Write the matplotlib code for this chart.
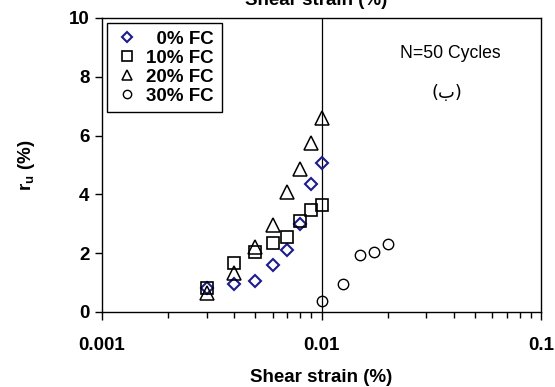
import matplotlib
matplotlib.use("Agg")
import matplotlib.pyplot as plt
from matplotlib.ticker import LogLocator, NullFormatter, FixedLocator

plt.rcParams['font.family'] = ['Liberation Sans', 'DejaVu Sans']
plt.rcParams['mathtext.fontset'] = 'custom'
plt.rcParams['mathtext.rm'] = 'Liberation Sans'
plt.rcParams['mathtext.bf'] = 'Liberation Sans:bold'
plt.rcParams['mathtext.it'] = 'Liberation Sans:italic'

# data
strain_0 = [0.003, 0.004, 0.005, 0.006, 0.007, 0.008, 0.009, 0.010]
ru_0 = [0.81, 0.95, 1.05, 1.59, 2.11, 3.0, 4.35, 5.06]
strain_10 = [0.003, 0.004, 0.005, 0.006, 0.007, 0.008, 0.009, 0.010]
ru_10 = [0.81, 1.66, 2.05, 2.34, 2.56, 3.1, 3.46, 3.63]
strain_20 = [0.003, 0.004, 0.005, 0.006, 0.007, 0.008, 0.009, 0.010]
ru_20 = [0.66, 1.34, 2.22, 2.96, 4.09, 4.86, 5.76, 6.59]
strain_30 = [0.010, 0.0125, 0.0149, 0.0173, 0.020]
ru_30 = [0.36, 0.95, 1.95, 2.04, 2.31]
labels = ['  0% FC', '10% FC', '20% FC', '30% FC']
x_ticks = [0.001, 0.01, 0.1]
x_tick_labels = ['0.001', '0.01', '0.1']
y_ticks = [0, 2, 4, 6, 8, 10]

FS = 13.5

fig = plt.figure(figsize=(5.55, 3.87), dpi=100)
ax = fig.add_axes([102/555, 1 - 312/387, 439/555, 294/387])

ax.plot(strain_0, ru_0, linestyle='none', marker='D', markersize=6.5,
        markerfacecolor='none', markeredgecolor='#1c1c8c', markeredgewidth=1.5, label=labels[0])
ax.plot(strain_10, ru_10, linestyle='none', marker='s', markersize=8.5,
        markerfacecolor='none', markeredgecolor='black', markeredgewidth=1.2, label=labels[1])
ax.plot(strain_20, ru_20, linestyle='none', marker='^', markersize=9.5,
        markerfacecolor='none', markeredgecolor='black', markeredgewidth=1.1, label=labels[2])
ax.plot(strain_30, ru_30, linestyle='none', marker='o', markersize=7.5,
        markerfacecolor='none', markeredgecolor='black', markeredgewidth=1.0, label=labels[3])

ax.axvline(0.01, color='black', linewidth=0.9, zorder=0)

ax.set_xscale('log')
ax.set_xlim(0.001, 0.1)
ax.set_ylim(0, 10)
ax.xaxis.set_major_locator(FixedLocator(x_ticks))
ax.set_xticklabels(x_tick_labels, fontsize=FS, fontweight='bold')
ax.xaxis.set_minor_locator(LogLocator(base=10, subs=range(2, 10)))
ax.xaxis.set_minor_formatter(NullFormatter())
ax.set_yticks(y_ticks)
ax.set_yticklabels([str(v) for v in y_ticks], fontsize=FS, fontweight='bold')

ax.tick_params(axis='x', which='major', direction='out', length=6, width=1, pad=12)
ax.tick_params(axis='x', which='minor', direction='out', length=4, width=1)
ax.tick_params(axis='y', which='major', direction='out', length=5, width=1, pad=4)
for s in ax.spines.values():
    s.set_linewidth(1.0)

ax.set_xlabel('Shear strain (%)', fontsize=FS, fontweight='bold', labelpad=11)
ax.set_ylabel(r'r$_\mathbf{u}$ (%)', fontsize=FS, fontweight='bold', labelpad=23)

# cut-off top title
fig.text(316/555, 1 - 5/387, 'Shear strain (%)', fontsize=FS, fontweight='bold',
         ha='center', va='baseline')

fig.text(450/555, 1 - 53/387, 'N=50 Cycles', fontsize=12.7, ha='center', va='center')
fig.text(447/555, 1 - 93/387, '(ب)', fontsize=13, ha='center', va='center',
         family=['DejaVu Sans'])

leg = ax.legend(loc='upper left', bbox_to_anchor=(5/439, 1 - 5/294), borderaxespad=0,
                frameon=True, fancybox=False, edgecolor='black', framealpha=1,
                prop={'weight': 'bold', 'size': FS}, handletextpad=0.4,
                labelspacing=0.1, borderpad=0.4, handlelength=1.3, markerscale=0.8)
leg.get_frame().set_linewidth(1.0)

fig.savefig('out.png', dpi=100)
